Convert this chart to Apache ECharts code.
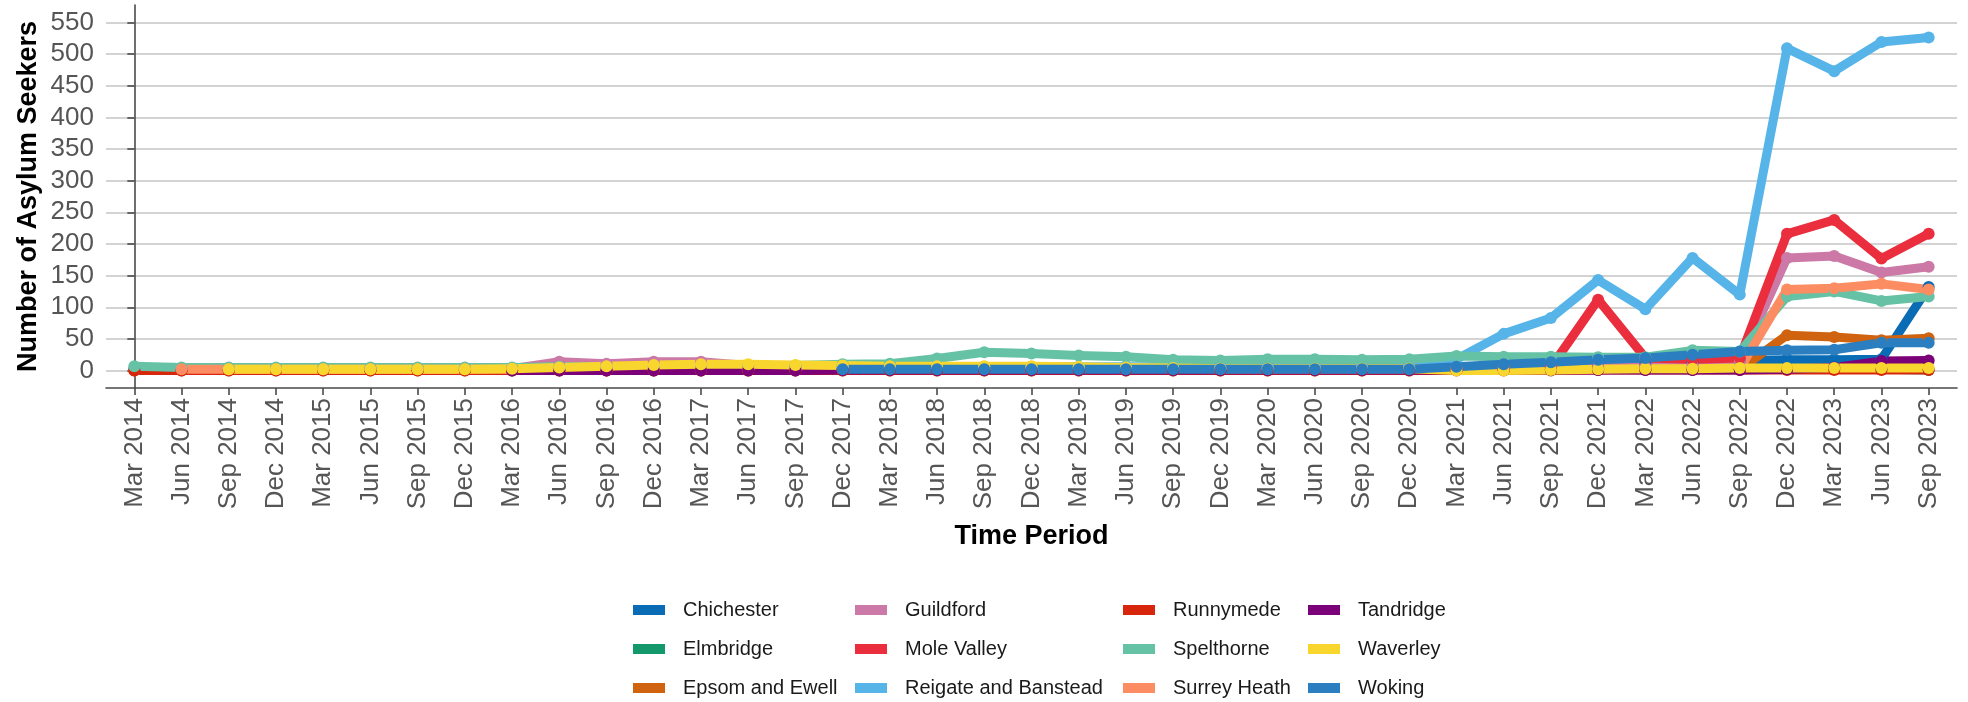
<!DOCTYPE html>
<html>
<head>
<meta charset="utf-8">
<script src="https://cdn.jsdelivr.net/npm/echarts@6/dist/echarts.min.js"></script>
<style>
html,body{margin:0;padding:0;background:#fff;}
#chart{width:1968px;height:702px;}
</style>
</head>
<body>
<div id="chart"></div>
<script>
const periods = ['Mar 2014','Jun 2014','Sep 2014','Dec 2014','Mar 2015','Jun 2015','Sep 2015','Dec 2015',
  'Mar 2016','Jun 2016','Sep 2016','Dec 2016','Mar 2017','Jun 2017','Sep 2017','Dec 2017',
  'Mar 2018','Jun 2018','Sep 2018','Dec 2018','Mar 2019','Jun 2019','Sep 2019','Dec 2019',
  'Mar 2020','Jun 2020','Sep 2020','Dec 2020','Mar 2021','Jun 2021','Sep 2021','Dec 2021',
  'Mar 2022','Jun 2022','Sep 2022','Dec 2022','Mar 2023','Jun 2023','Sep 2023'];

const yTicks = [0,50,100,150,200,250,300,350,400,450,500,550];

const chichester = [null,null,null,null,null,null,null,null,null,null,
  null,null,null,null,null,null,null,null,null,null,
  null,null,null,null,null,null,null,null,
  2,3,5,7,10,13,16,17,17,18,132];
const elmbridge = [1,1,1,1,1,1,1,1,1,1, 1,2,2,2,2,2,2,2,3,3, 3,3,3,3,3,3,3,3,3,3, 3,3,3,3,3,3,3,2,1];
const epsomEwell = [0,0,0,0,0,0,0,0,0,0, 0,0,0,0,0,0,0,0,0,0, 0,0,0,0,0,0,0,0,1,1, 2,2,3,3,2,56,53,48,51];
const guildford = [2,2,2,2,2,2,2,2,3,14, 11,14,14,8,7,5,4,4,4,4, 4,4,4,4,4,4,4,4,5,5, 5,6,6,8,15,178,181,155,164];
const moleValley = [1,1,1,1,1,1,1,1,1,1, 1,1,1,1,1,1,1,1,1,1, 1,1,1,1,1,1,1,1,2,3, 5,112,20,18,20,216,238,177,216];
const reigateBanstead = [3,3,3,3,3,3,3,3,3,3, 4,4,4,4,4,5,5,5,6,6, 6,6,6,6,6,6,6,6,18,58, 83,143,97,178,120,509,473,519,526];
const runnymede = [0,0,0,0,0,0,0,0,0,0, 0,0,0,0,0,0,0,0,0,0, 0,0,0,0,0,0,0,0,0,0, 0,1,1,1,1,1,1,1,1];
const spelthorne = [7,5,5,5,5,5,5,5,5,6, 6,7,7,8,8,10,11,19,29,27, 24,22,17,16,18,18,17,18,23,22, 22,21,21,32,30,117,125,110,117];
const surreyHeath = [null,2,2,2,2,2,2,2,2,2, 2,2,2,2,2,2,2,2,2,2, 2,2,2,2,2,2,2,2,2,2, 2,2,2,2,3,128,130,137,128];
const tandridge = [null,null,null,null,null,null,null,null,0,0, 0,0,0,0,0,1,1,1,1,1, 1,1,1,1,1,1,1,1,1,1, 1,1,1,1,1,2,5,15,16];
const waverley = [null,null,2,2,2,2,2,2,3,5, 7,9,10,10,9,8,7,7,7,7, 6,5,4,3,3,3,3,3,0,0, 1,2,3,3,4,4,4,4,4];
const woking = [null,null,null,null,null,null,null,null,null,null,
  null,null,null,null,null,2,2,2,2,2,
  2,2,2,2,2,2,2,2,6,10,
  13,17,20,25,30,32,33,44,44];

const seriesNames = ['Chichester','Elmbridge','Epsom and Ewell','Guildford','Mole Valley','Reigate and Banstead',
  'Runnymede','Spelthorne','Surrey Heath','Tandridge','Waverley','Woking'];
const seriesValues = [chichester, elmbridge, epsomEwell, guildford, moleValley, reigateBanstead,
  runnymede, spelthorne, surreyHeath, tandridge, waverley, woking];
const colors = ['#0a6cb4','#13986c','#cf6310','#cc79a7','#ea2e3d','#56b4e9',
  '#d7260c','#66c2a5','#fc8d62','#7a0177','#f9d62e','#2b7fc0'];

const FONT = '"Liberation Sans", Arial, Helvetica, sans-serif';
const xIdx = periods.map((p, i) => i);

const series = seriesNames.map((name, k) => ({
  name: name,
  type: 'line',
  data: seriesValues[k].map((v, i) => [i, v]),
  connectNulls: false,
  symbol: 'circle',
  symbolSize: 12,
  showSymbol: true,
  lineStyle: { width: 9, color: colors[k], cap: 'round', join: 'round' },
  itemStyle: { color: colors[k] },
  emphasis: { disabled: true },
  animation: false
}));

const legendCols = [[0,1,2],[3,4,5],[6,7,8],[9,10,11]];
const legendLeft = [633, 855, 1123, 1308];
const legends = legendCols.map((col, c) => ({
  orient: 'vertical',
  left: legendLeft[c],
  top: 600,
  padding: 0,
  height: 102,
  itemGap: 19,
  itemWidth: 32,
  itemHeight: 10,
  icon: 'rect',
  selectedMode: false,
  data: col.map(k => seriesNames[k]),
  textStyle: { fontFamily: FONT, fontSize: 20, lineHeight: 20, color: '#1a1a1a', padding: [0,0,0,13] }
}));

const chart = echarts.init(document.getElementById('chart'), null, { renderer: 'canvas' });
chart.setOption({
  backgroundColor: '#ffffff',
  animation: false,
  color: colors,
  grid: { left: 106, right: 11, top: 5, bottom: 314, containLabel: false },
  legend: legends,
  xAxis: {
    type: 'value',
    min: -0.6,
    max: 38.6,
    name: 'Time Period',
    nameLocation: 'middle',
    nameGap: 135,
    nameMoveOverlap: false,
    nameTextStyle: { fontFamily: FONT, fontSize: 27, fontWeight: 'bold', color: '#000' },
    axisLine: { onZero: false, lineStyle: { color: '#4a4a4a', width: 1.6 } },
    axisTick: { show: true, length: 7, customValues: xIdx, lineStyle: { color: '#4a4a4a', width: 1.6 } },
    axisLabel: {
      customValues: xIdx,
      rotate: 90,
      margin: 10,
      fontFamily: FONT, fontSize: 26, color: '#555555',
      formatter: v => periods[Math.round(v)]
    },
    splitLine: { show: false }
  },
  yAxis: {
    type: 'value',
    min: -27.5,
    max: 577.5,
    name: 'Number of Asylum Seekers',
    nameLocation: 'middle',
    nameGap: 64,
    nameMoveOverlap: false,
    nameTextStyle: { fontFamily: FONT, fontSize: 27, fontWeight: 'bold', color: '#000' },
    axisLine: { show: true, lineStyle: { color: '#4a4a4a', width: 1.6 } },
    axisTick: { show: true, length: 7, customValues: yTicks, lineStyle: { color: '#4a4a4a', width: 1.6 } },
    axisLabel: { customValues: yTicks, margin: 12, fontFamily: FONT, fontSize: 26, color: '#555555' },
    splitLine: { show: true, lineStyle: { color: '#c4c4c4', width: 1.6 } }
  },
  series: series
});
</script>
</body>
</html>
